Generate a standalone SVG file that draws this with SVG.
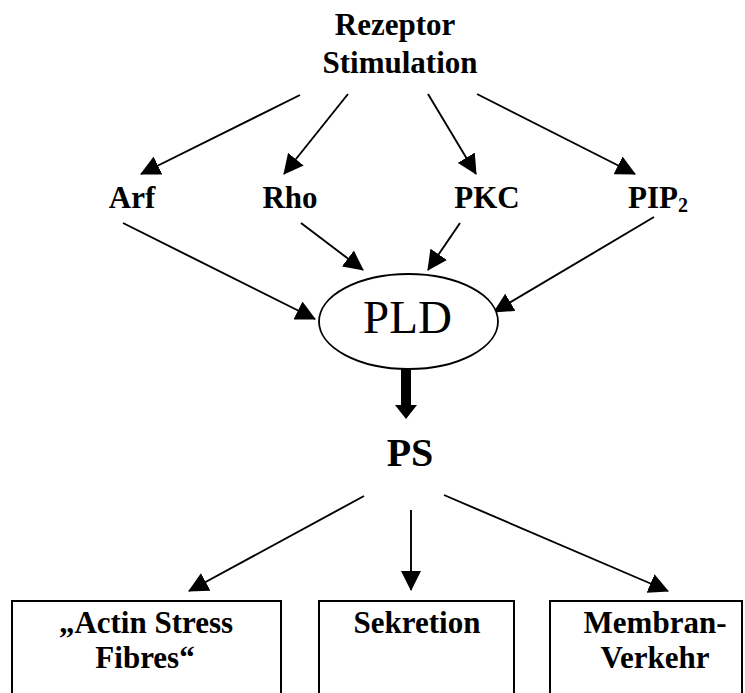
<svg xmlns="http://www.w3.org/2000/svg" width="745" height="693" viewBox="0 0 745 693">
<style>
text{font-family:"Liberation Serif","Times New Roman",serif;fill:#000}
.b{font-weight:bold;font-size:31px;text-anchor:middle}
.ln{stroke:#000;stroke-width:1.9;fill:none;marker-end:url(#ah)}
.box{fill:#fff;stroke:#000;stroke-width:2}
</style>
<defs>
<marker id="ah" viewBox="0 0 20 20" refX="19" refY="10" markerWidth="20" markerHeight="20" markerUnits="userSpaceOnUse" orient="auto">
<path d="M0,0 L20,10 L0,20 z" fill="#000"/>
</marker>
</defs>
<rect width="745" height="693" fill="#fff"/>
<g id="connectors">
<line class="ln" x1="300" y1="95" x2="141" y2="174"/>
<line class="ln" x1="348" y1="94" x2="284" y2="174"/>
<line class="ln" x1="428" y1="94" x2="476" y2="174"/>
<line class="ln" x1="477" y1="94" x2="635" y2="174"/>
<line class="ln" x1="123" y1="223" x2="315" y2="319"/>
<line class="ln" x1="301" y1="223" x2="363" y2="270"/>
<line class="ln" x1="460" y1="223" x2="428" y2="270"/>
<line class="ln" x1="654" y1="217" x2="494" y2="312"/>
<path d="M401,369 L411,369 L411,405 L417,405 L406,419 L395,405 L401,405 z" fill="#000"/>
<line class="ln" x1="364" y1="496" x2="189" y2="591"/>
<line class="ln" x1="411" y1="510" x2="411" y2="590"/>
<line class="ln" x1="444" y1="495" x2="668" y2="591"/>
</g>
<g id="rezeptor">
<text class="b" x="395" y="35">Rezeptor</text>
<text class="b" x="400" y="73">Stimulation</text>
</g>
<g id="arf"><text class="b" x="132" y="208">Arf</text></g>
<g id="rho"><text class="b" x="290" y="208">Rho</text></g>
<g id="pkc"><text class="b" x="487" y="208">PKC</text></g>
<g id="pip2"><text class="b" x="628" y="208" style="text-anchor:start">PIP<tspan font-size="20" dy="4">2</tspan></text></g>
<g id="pld">
<ellipse cx="408.5" cy="321.5" rx="89.5" ry="47.5" fill="#fff" stroke="#000" stroke-width="1.8"/>
<text x="407.5" y="333" font-size="47" text-anchor="middle">PLD</text>
</g>
<g id="ps"><text class="b" x="410" y="466" style="font-size:40px">PS</text></g>
<g id="actin">
<rect class="box" x="12" y="601" width="269" height="100"/>
<text class="b" x="146" y="633">„Actin Stress</text>
<text class="b" x="145" y="668">Fibres“</text>
</g>
<g id="sekretion">
<rect class="box" x="319" y="601" width="195" height="100"/>
<text class="b" x="417" y="633">Sekretion</text>
</g>
<g id="membran">
<rect class="box" x="550" y="601" width="192" height="100"/>
<text class="b" x="655" y="633">Membran-</text>
<text class="b" x="655" y="668">Verkehr</text>
</g>
</svg>
